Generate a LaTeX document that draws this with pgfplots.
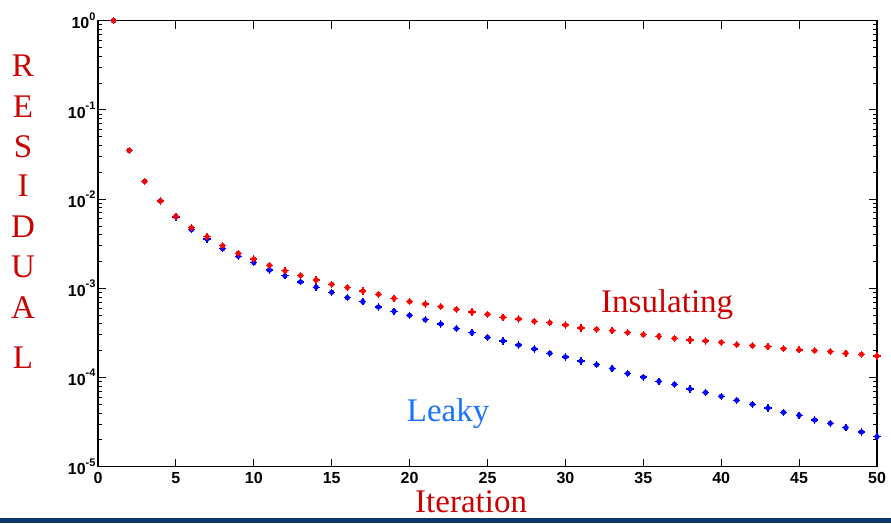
\documentclass[border=0pt]{standalone}
\usepackage{pgfplots}
\pgfplotsset{compat=1.18}
\usepackage{pgfplotstable}
\usepackage{fontspec}
\setmainfont{Liberation Serif}
\newfontfamily\arial{Liberation Sans}

\definecolor{insred}{RGB}{255,0,0}
\definecolor{leakblue}{RGB}{0,0,255}
\definecolor{labred}{RGB}{204,0,0}
\definecolor{labblue}{RGB}{26,115,255}
\definecolor{barblue}{RGB}{10,54,104}

% residual history per iteration
\pgfplotstableread{
it  res
1   1.0
2   0.0352
3   0.01584
4   0.00952
5   0.00641
6   0.00478
7   0.00379
8   0.00300
9   0.00247
10  0.00213
11  0.00181
12  0.00157
13  0.00139
14  0.00124
15  0.00111
16  0.00102
17  0.000933
18  0.000857
19  0.000773
20  0.000708
21  0.000667
22  0.000622
23  0.000582
24  0.000543
25  0.000511
26  0.000473
27  0.000453
28  0.000427
29  0.000411
30  0.000388
31  0.000359
32  0.000347
33  0.000335
34  0.000318
35  0.000302
36  0.000290
37  0.000275
38  0.000263
39  0.000257
40  0.000248
41  0.000233
42  0.000227
43  0.000221
44  0.000210
45  0.000204
46  0.000200
47  0.000195
48  0.000187
49  0.000182
50  0.000174
}\insulating

\pgfplotstableread{
it  res
1   1.0
2   0.0352
3   0.01584
4   0.00952
5   0.00630
6   0.00454
7   0.00357
8   0.00278
9   0.00229
10  0.00194
11  0.00160
12  0.00138
13  0.00118
14  0.00103
15  0.000902
16  0.000785
17  0.000708
18  0.000617
19  0.000552
20  0.000498
21  0.000444
22  0.000398
23  0.000353
24  0.000318
25  0.000282
26  0.000257
27  0.000231
28  0.000209
29  0.000187
30  0.000170
31  0.000153
32  0.000139
33  0.000126
34  0.000111
35  0.000101
36  0.0000906
37  0.0000839
38  0.0000743
39  0.0000679
40  0.0000615
41  0.0000555
42  0.0000501
43  0.0000455
44  0.0000407
45  0.0000377
46  0.0000334
47  0.0000307
48  0.0000274
49  0.0000245
50  0.0000217
}\leaky

\newcommand{\tkfont}{\fontsize{16}{18}\selectfont\arial\bfseries}
\newcommand{\pw}[1]{10\raisebox{0.55em}{\fontsize{11}{11}\selectfont #1}}

\begin{document}
\begin{tikzpicture}
\path[use as bounding box] (-98pt,-56.3pt) rectangle (793pt,466.7pt);
\fill[barblue] (-98pt,-56.3pt) rectangle (793pt,-51pt);

\begin{axis}[
  scale only axis,
  width=779pt, height=446pt,
  ymode=log,
  xmin=0, xmax=50,
  ymin=1e-5, ymax=1,
  clip=false,
  axis line style={line width=1.5pt},
  every tick/.style={black, line width=0.9pt},
  major tick length=8pt,
  minor tick length=4pt,
  tick align=inside,
  xtick={0,5,...,50},
  ytick={1e-5,1e-4,1e-3,1e-2,1e-1,1},
  yticklabels={\pw{-5},\pw{-4},\pw{-3},\pw{-2},\pw{-1},\pw{0}},
  /pgf/number format/assume math mode=true,
  ticklabel style={font=\tkfont},
  xticklabel style={yshift=-2pt},
  yticklabel style={xshift=1pt},
  mark size=3.6pt,
]
\addplot[only marks, draw=leakblue, mark=+, mark options={line width=1.3pt}] table[x=it,y=res] {\leaky};
\addplot[only marks, mark=*, mark size=2.4pt, mark options={draw=leakblue, fill=leakblue}] table[x=it,y=res] {\leaky};
\addplot[only marks, draw=insred, mark=+, mark options={line width=1.3pt}] table[x=it,y=res] {\insulating};
\addplot[only marks, mark=*, mark size=2.4pt, mark options={draw=insred, fill=insred}] table[x=it,y=res] {\insulating};
\end{axis}

\begin{scope}[every node/.style={inner sep=0pt, font=\fontsize{33}{36}\selectfont}]
\node[anchor=base west, text=labred] at (503pt,154.4pt) {Insulating};
\node[anchor=base west, text=labblue] at (308.7pt,45pt) {Leaky};
\node[anchor=base west, text=labred] at (317pt,-46pt) {Iteration};
\foreach \ch/\yy in {R/390,E/349.4,S/309.4,I/270,D/229.7,U/189.7,A/148.4,L/98.7}
  \node[anchor=base, text=labred] at (-75pt,\yy pt) {\ch};
\end{scope}
\end{tikzpicture}
\end{document}
